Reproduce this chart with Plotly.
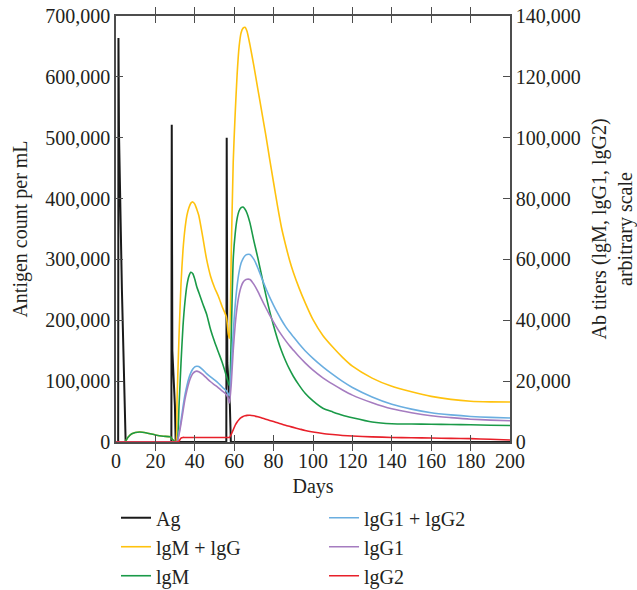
import plotly.graph_objects as go

# Antigen load (left axis): three injections, days 1, 28 and 56
ag_days = [0, 1.1, 1.25, 1.5, 3.0, 4.9, 28.1, 28.3, 28.6, 29.9, 30.3,
           56.0, 56.2, 56.5, 57.8, 58.3, 200]
ag_count = [0, 0, 664000, 510000, 250000, 0, 0, 521500, 150000, 60000, 0,
            0, 500000, 130000, 60000, 0, 0]

# Antibody titers (right axis, arbitrary scale)
ab_days = [0, 4.5, 6, 8, 12, 16, 20, 24, 27.5, 29, 30.3, 31, 32, 33, 34, 35,
           36, 37, 38, 39, 40, 41, 42, 44, 46, 48, 50, 52, 54, 56, 57, 57.6,
           58.5, 59.5, 60.5, 61.5, 62.5, 63.5, 64.5, 65.5, 66.5, 68, 70, 72,
           74, 76, 78, 80, 82, 84, 86, 88, 90, 93, 96, 100, 105, 110, 115,
           120, 130, 140, 150, 160, 170, 180, 190, 200]

igm_igg = [0, 0, 1500, 2700, 3300, 2900, 2300, 1900, 1700, 600, 0, 14000,
           35000, 52000, 63000, 70000, 74500, 77000, 78500, 78900, 78200,
           76500, 74500, 67500, 60000, 54500, 50800, 47800, 44300, 41200,
           35500, 34000, 62000, 92000, 108000, 121000, 130000, 134500,
           136000, 136300, 135000, 130500, 123500, 116000, 108500, 101000,
           93000, 85200, 77500, 70500, 65000, 60000, 55800, 50500, 45800,
           40200, 35000, 31200, 27800, 24900, 21000, 18300, 16500, 15000,
           14000, 13400, 13200, 13150]

igm = [0, 0, 1500, 2700, 3300, 2900, 2300, 1900, 1700, 600, 0, 0, 12000,
       26000, 38000, 46000, 51500, 54500, 55800, 55300, 53500, 51000, 49200,
       45500, 42000, 37000, 33000, 29500, 26000, 21800, 19500, 18500, 35000,
       60000, 68500, 73500, 76000, 77000, 77200, 76500, 75200, 72000, 66000,
       60500, 54500, 48500, 43000, 38200, 33800, 30000, 26800, 24000, 21600,
       18600, 16000, 13500, 11100, 9900, 8800, 8000, 6600, 6000, 5900, 5850,
       5750, 5650, 5500, 5400]

igg1_igg2 = [0, 0, 0, 0, 0, 0, 0, 0, 0, 0, 0, 0, 3000, 7000, 11500, 15500,
             18500, 21000, 22800, 24000, 24700, 24900, 24800, 23800, 22500,
             21400, 20400, 19300, 18000, 16800, 15800, 15200, 24000, 36000,
             45000, 51500, 56000, 58800, 60300, 61200, 61600, 61600, 60000,
             57200, 53800, 50600, 47600, 44900, 42400, 40100, 38000, 36200,
             34600, 32200, 30000, 27500, 24700, 22200, 19900, 17900, 14800,
             12400, 10800, 9600, 8900, 8400, 8100, 7900]

igg1 = [0, 0, 0, 0, 0, 0, 0, 0, 0, 0, 0, 0, 2500, 6000, 10000, 14000, 17000,
        19500, 21300, 22500, 23100, 23300, 23100, 22200, 21000, 19800, 18800,
        17800, 16700, 15600, 14200, 12800, 19000, 30000, 38500, 44500, 48500,
        51000, 52500, 53200, 53500, 53400, 51800, 49500, 46800, 44200, 41700,
        39400, 37200, 35200, 33400, 31700, 30200, 28000, 26000, 23600, 21100,
        19000, 17100, 15400, 12900, 10900, 9600, 8600, 8000, 7500, 7200, 7000]

igg2 = [0, 0, 0, 0, 0, 0, 0, 0, 0, 0, 0, 0, 300, 1300, 1500, 1500, 1500,
        1500, 1500, 1500, 1500, 1500, 1500, 1500, 1500, 1500, 1500, 1500,
        1500, 1500, 1500, 1500, 2500, 4000, 5500, 6600, 7400, 8000, 8400,
        8600, 8750, 8800, 8600, 8300, 7900, 7500, 7100, 6700, 6300, 5900,
        5500, 5150, 4800, 4300, 3800, 3300, 2800, 2450, 2150, 1950, 1700,
        1500, 1400, 1300, 1200, 1100, 900, 650]

left_ticks = list(range(0, 700001, 100000))
right_ticks = list(range(0, 140001, 20000))
day_ticks = list(range(0, 201, 20))

FONT = "Liberation Serif"
INK = "#231f20"
AXIS = "#4d4d4d"

series = [
    ("lgM + lgG", igm_igg, "#ffc20e", "legend"),
    ("lgM", igm, "#1a9a48", "legend"),
    ("lgG1 + lgG2", igg1_igg2, "#6aaee0", "legend2"),
    ("lgG1", igg1, "#a57cc0", "legend2"),
    ("lgG2", igg2, "#e8202a", "legend2"),
]

fig = go.Figure()
fig.add_trace(go.Scatter(x=ag_days, y=ag_count, name="Ag", mode="lines",
                         line=dict(color="#1a1a1a", width=2),
                         yaxis="y", legend="legend"))
for name, vals, color, leg in series:
    fig.add_trace(go.Scatter(x=ab_days, y=vals, name=name, mode="lines",
                             line=dict(color=color, width=1.6, shape="spline",
                                       smoothing=0.6),
                             yaxis="y2", legend=leg))

axis_common = dict(showline=True, linecolor=AXIS, linewidth=1.6,
                   ticks="inside", ticklen=7, tickwidth=1.4, tickcolor=AXIS,
                   showgrid=False, zeroline=False,
                   tickfont=dict(family=FONT, size=20, color=INK))

legend_common = dict(orientation="v", yanchor="top", xanchor="left",
                     bgcolor="rgba(0,0,0,0)", itemwidth=30,
                     font=dict(family=FONT, size=20, color=INK),
                     tracegroupgap=0)

fig.update_layout(
    width=637, height=590,
    margin=dict(l=116, r=127, t=16, b=148, autoexpand=False),
    paper_bgcolor="white", plot_bgcolor="white",
    font=dict(family=FONT, size=20, color=INK),
    xaxis=dict(range=[0, 200], tickvals=day_ticks, mirror="allticks",
               title=dict(text="Days", standoff=8,
                          font=dict(family=FONT, size=20, color=INK)),
               **axis_common),
    yaxis=dict(range=[0, 700000], tickvals=left_ticks, tickformat=",d",
               title=dict(text="Antigen count per mL", standoff=12,
                          font=dict(family=FONT, size=20, color=INK)),
               **axis_common),
    yaxis2=dict(range=[0, 140000], tickvals=right_ticks, tickformat=",d",
                overlaying="y", side="right",
                title=dict(text="Ab titers (lgM, lgG1, lgG2)<br>arbitrary scale",
                           standoff=12,
                           font=dict(family=FONT, size=20, color=INK)),
                **axis_common),
    legend=dict(x=0.0, y=-0.132, **legend_common),
    legend2=dict(x=0.528, y=-0.132, **legend_common),
    showlegend=True,
)

fig.write_html("out.html")
